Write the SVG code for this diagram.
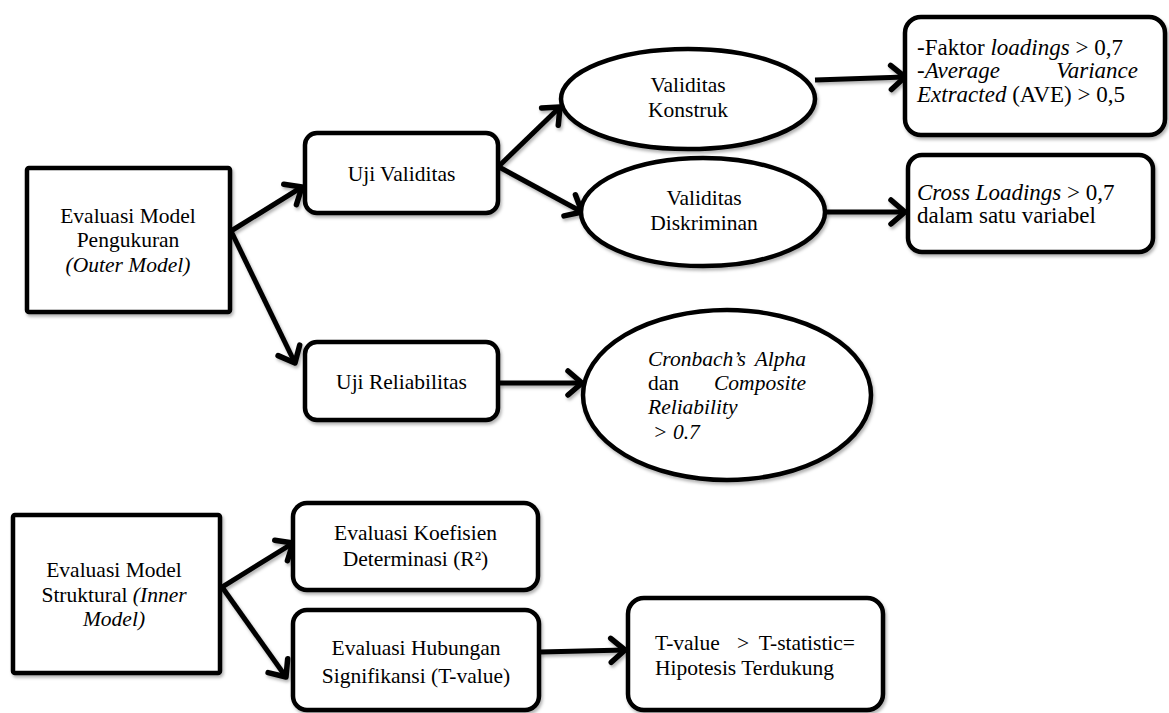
<svg xmlns="http://www.w3.org/2000/svg" width="1169" height="713" viewBox="0 0 1169 713">
<style>
  .shape { fill: #fff; stroke: #000; stroke-width: 4.5; }
  .conn { fill: none; stroke: #000; stroke-width: 5; }
  text { font-family: 'Liberation Serif', 'DejaVu Serif', serif; font-size: 21.5px; fill: #000; }
  .c { text-anchor: middle; }
  .e { text-anchor: end; }
  .big { font-size: 23px; }
  .i { font-style: italic; }
</style>
<defs>
  <filter id="sh" filterUnits="userSpaceOnUse" x="0" y="0" width="1169" height="713">
    <feDropShadow dx="1.5" dy="2.5" stdDeviation="1.5" flood-color="#000" flood-opacity="0.3"/>
  </filter>
  <marker id="ah" markerUnits="userSpaceOnUse" viewBox="-20 -16 26 32" refX="0" refY="0" markerWidth="26" markerHeight="32" orient="auto" overflow="visible">
    <path d="M-14,-12 L0,0 L-14,12" fill="none" stroke="#000" stroke-width="5.5" stroke-linecap="round" stroke-linejoin="round"/>
  </marker>
</defs>
<rect width="1169" height="713" fill="#fff"/>

<g id="connectors" filter="url(#sh)">
  <line class="conn" x1="231" y1="231" x2="302" y2="187" marker-end="url(#ah)"/>
  <line class="conn" x1="231" y1="231" x2="295" y2="363" marker-end="url(#ah)"/>
  <line class="conn" x1="499" y1="166" x2="560" y2="107" marker-end="url(#ah)"/>
  <line class="conn" x1="499" y1="167" x2="582" y2="212" marker-end="url(#ah)"/>
  <line class="conn" x1="815" y1="80" x2="905" y2="77" marker-end="url(#ah)"/>
  <line class="conn" x1="825" y1="212" x2="905" y2="212" marker-end="url(#ah)"/>
  <line class="conn" x1="499" y1="383" x2="582" y2="383" marker-end="url(#ah)"/>
  <line class="conn" x1="222" y1="587" x2="293" y2="543" marker-end="url(#ah)"/>
  <line class="conn" x1="222" y1="587" x2="286" y2="677" marker-end="url(#ah)"/>
  <line class="conn" x1="540" y1="652" x2="625" y2="650" marker-end="url(#ah)"/>
</g>

<g id="outer-model">
  <rect class="shape" x="27" y="168" width="203" height="144" rx="2" filter="url(#sh)"/>
  <text class="c" x="128" y="223">Evaluasi Model</text>
  <text class="c" x="128" y="247">Pengukuran</text>
  <text class="c i" x="128" y="272">(Outer Model)</text>
</g>

<g id="uji-validitas">
  <rect class="shape" x="305" y="133" width="193" height="80" rx="12" filter="url(#sh)"/>
  <text class="c" x="401.5" y="181">Uji Validitas</text>
</g>

<g id="validitas-konstruk">
  <ellipse class="shape" cx="688" cy="99" rx="127" ry="50" filter="url(#sh)"/>
  <text class="c" x="688" y="92">Validitas</text>
  <text class="c" x="688" y="117">Konstruk</text>
</g>

<g id="validitas-diskriminan">
  <ellipse class="shape" cx="703" cy="212" rx="122" ry="54" filter="url(#sh)"/>
  <text class="c" x="704" y="205">Validitas</text>
  <text class="c" x="704" y="230">Diskriminan</text>
</g>

<g id="kriteria-konstruk">
  <rect class="shape" x="905" y="17" width="260" height="118" rx="16" filter="url(#sh)"/>
  <text class="big" x="917" y="55">-Faktor <tspan class="i">loadings</tspan> &gt; 0,7</text>
  <text class="big i" x="917" y="78">-Average</text>
  <text class="big i e" x="1138" y="78">Variance</text>
  <text class="big" x="917" y="102"><tspan class="i">Extracted</tspan> (AVE) &gt; 0,5</text>
</g>

<g id="kriteria-diskriminan">
  <rect class="shape" x="908" y="155" width="245" height="97" rx="14" filter="url(#sh)"/>
  <text class="big" x="917" y="200"><tspan class="i">Cross Loadings</tspan> &gt; 0,7</text>
  <text class="big" x="917" y="223">dalam satu variabel</text>
</g>

<g id="uji-reliabilitas">
  <rect class="shape" x="305" y="342" width="193" height="78" rx="12" filter="url(#sh)"/>
  <text class="c" x="401.5" y="389">Uji Reliabilitas</text>
</g>

<g id="kriteria-reliabilitas">
  <ellipse class="shape" cx="727" cy="395" rx="144" ry="85" filter="url(#sh)"/>
  <text class="i" x="648" y="366">Cronbach’s</text>
  <text class="i e" x="806" y="366">Alpha</text>
  <text x="648" y="390">dan</text>
  <text class="i e" x="806" y="390">Composite</text>
  <text class="i" x="648" y="414">Reliability</text>
  <text class="i" x="653" y="439">&gt; 0.7</text>
</g>

<g id="inner-model">
  <rect class="shape" x="13" y="515" width="207" height="158" rx="2" filter="url(#sh)"/>
  <text class="c" x="114" y="577">Evaluasi Model</text>
  <text class="c" x="114" y="602">Struktural <tspan class="i">(Inner</tspan></text>
  <text class="c i" x="114" y="626">Model)</text>
</g>

<g id="koefisien-determinasi">
  <rect class="shape" x="293" y="503" width="245" height="87" rx="14" filter="url(#sh)"/>
  <text class="c" x="415.5" y="540">Evaluasi Koefisien</text>
  <text class="c" x="415.5" y="566">Determinasi (R²)</text>
</g>

<g id="hubungan-signifikansi">
  <rect class="shape" x="293" y="610" width="246" height="100" rx="14" filter="url(#sh)"/>
  <text class="c" x="416" y="655">Evaluasi Hubungan</text>
  <text class="c" x="416" y="683">Signifikansi (T-value)</text>
</g>

<g id="hipotesis">
  <rect class="shape" x="628" y="598" width="255" height="112" rx="16" filter="url(#sh)"/>
  <text x="655" y="650">T-value</text>
  <text class="c" x="743" y="650">&gt;</text>
  <text class="e" x="855" y="650">T-statistic=</text>
  <text x="655" y="675">Hipotesis Terdukung</text>
</g>
</svg>
